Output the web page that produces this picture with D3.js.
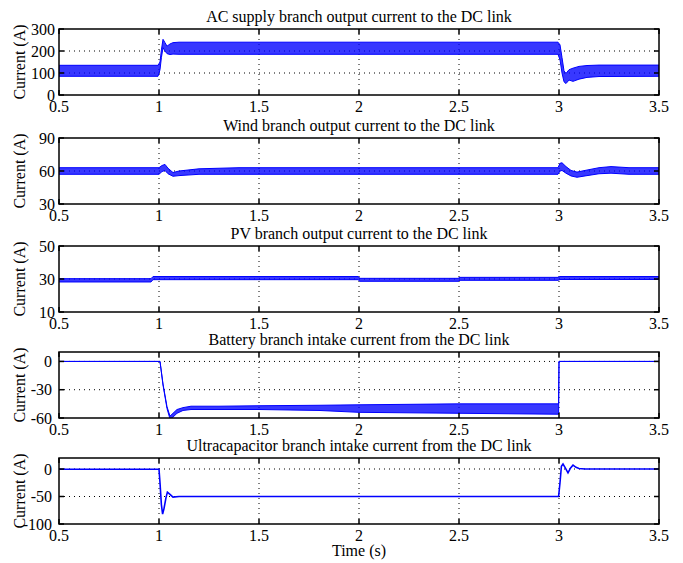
<!DOCTYPE html>
<html>
<head>
<meta charset="utf-8">
<script src="https://cdn.jsdelivr.net/npm/d3@7"></script>
<style>
  body { margin: 0; background: #fff; }
  text { font-family: "Liberation Serif", "Times New Roman", serif; fill: #000; }
</style>
</head>
<body>
<svg id="drawing_region"></svg>
<script>
// ---- data ----
const titles = [
    "AC supply branch output current to the DC link",
    "Wind branch output current to the DC link",
    "PV branch output current to the DC link",
    "Battery branch intake current from the DC link",
    "Ultracapacitor branch intake current from the DC link"
];
const timeTicks = [0.5, 1, 1.5, 2, 2.5, 3, 3.5];
const yTicks = [[0, 100, 200, 300], [30, 60, 90], [10, 30, 50], [-60, -30, 0], [-100, -50, 0]];
const yDomains = [[0, 300], [30, 90], [10, 50], [-60, 10], [-100, 20]];

// AC supply: ripple band (min / max)
const acT  = [0.5, 0.995, 1.005, 1.012, 1.02, 1.03, 1.04, 1.055, 1.07, 1.1, 2.995, 3.005, 3.015, 3.025, 3.035, 3.05, 3.07, 3.1, 3.14, 3.2, 3.5];
const acLo = [85, 85, 115, 170, 215, 200, 188, 184, 186, 185, 185, 160, 100, 60, 52, 68, 62, 72, 80, 84, 85];
const acHi = [135, 135, 150, 205, 253, 238, 222, 232, 238, 240, 240, 228, 170, 110, 98, 115, 122, 130, 134, 136, 136];

// Wind
const windT  = [0.5, 1.0, 1.015, 1.03, 1.045, 1.07, 1.1, 1.2, 1.4, 2.995, 3.005, 3.015, 3.035, 3.06, 3.09, 3.13, 3.2, 3.26, 3.35, 3.5];
const windLo = [57, 57, 59.5, 60.5, 57.5, 55.2, 55.8, 57, 57, 57, 60, 60.5, 58, 55.5, 54.3, 55.5, 57.5, 58, 57, 57];
const windHi = [63, 63, 65, 66, 62.5, 58.6, 60, 62, 63, 63, 67, 67.5, 64, 60.5, 59, 60.5, 63, 64, 63, 63];

// PV
const pvT  = [0.5, 0.96, 0.97, 1.995, 2.005, 2.495, 2.505, 2.995, 3.005, 3.5];
const pvLo = [28.2, 28.2, 29.6, 29.6, 28.6, 28.6, 29.2, 29.2, 29.7, 29.7];
const pvHi = [30.2, 30.2, 31.5, 31.5, 30.4, 30.4, 31, 31, 31.5, 31.5];

// Battery
const batT  = [0.5, 1.005, 1.02, 1.04, 1.055, 1.07, 1.09, 1.12, 1.16, 1.3, 1.5, 1.8, 2.0, 2.5, 2.998, 3.0, 3.5];
const batLo = [0, 0, -25, -50, -61, -59, -55, -52, -51, -51, -51, -52, -54, -55, -56, 0, 0];
const batHi = [0, 0, -24, -48, -58, -55, -51, -49, -47.5, -47.5, -47, -46.5, -46, -45, -45, 0, 0];

// Ultracapacitor
const ucT = [0.5, 1.0, 1.005, 1.012, 1.018, 1.025, 1.035, 1.042, 1.055, 1.07, 1.1, 2.998, 3.005, 3.012, 3.02, 3.03, 3.045, 3.058, 3.07, 3.085, 3.1, 3.13, 3.5];
const ucI = [-0.5, -0.5, -25, -65, -82, -72, -52, -42, -46, -51, -50, -50, -25, 5, 9, 3, -7, 2, 7, 3, 1, 0, 0];

// ---- layout ----
const W = 683, H = 563;
const left = 59, right = 659, panelH = 66;
const panelTops = [29, 138, 246, 352, 458];

const series = [
    {t: acT, lo: acLo, hi: acHi},
    {t: windT, lo: windLo, hi: windHi},
    {t: pvT, lo: pvLo, hi: pvHi},
    {t: batT, lo: batLo, hi: batHi},
    {t: ucT, v: ucI}
];

const svg = d3.select("#drawing_region").attr("width", W).attr("height", H);
const x = d3.scaleLinear().domain([0.5, 3.5]).range([left, right]);

titles.forEach((title, i) => {
    const top = panelTops[i], bottom = top + panelH;
    const y = d3.scaleLinear().domain(yDomains[i]).range([bottom, top]);
    const g = svg.append("g");

    g.append("clipPath").attr("id", "clip" + i)
        .append("rect").attr("x", left).attr("y", top).attr("width", right - left).attr("height", panelH);

    // dotted grid
    g.selectAll(".vg").data(timeTicks.slice(1, -1)).enter().append("line")
        .attr("x1", d => x(d)).attr("x2", d => x(d)).attr("y1", top).attr("y2", bottom)
        .attr("stroke", "#000").attr("stroke-width", 1).attr("stroke-dasharray", "1,4");
    g.selectAll(".hg").data(yTicks[i].filter(d => d != yDomains[i][0] && d != yDomains[i][1])).enter().append("line")
        .attr("x1", left).attr("x2", right).attr("y1", d => y(d)).attr("y2", d => y(d))
        .attr("stroke", "#000").attr("stroke-width", 1).attr("stroke-dasharray", "1,4");

    // signal
    const s = series[i];
    const pts = s.t.map((t, k) => ({t: t, lo: s.lo ? s.lo[k] : null, hi: s.hi ? s.hi[k] : null, v: s.v ? s.v[k] : null}));
    const plot = g.append("g").attr("clip-path", `url(#clip${i})`);
    if (s.v) {
        plot.append("path").datum(pts)
            .attr("d", d3.line().x(d => x(d.t)).y(d => y(d.v)))
            .attr("fill", "none").attr("stroke", "#0000ff").attr("stroke-width", 1.6);
    } else {
        plot.append("path").datum(pts)
            .attr("d", d3.area().x(d => x(d.t)).y0(d => y(d.lo)).y1(d => y(d.hi)))
            .attr("fill", "#0000ff").attr("fill-opacity", 0.78)
            .attr("stroke", "#0000ff").attr("stroke-width", 1);
    }

    // box and inward ticks
    g.append("rect").attr("x", left).attr("y", top).attr("width", right - left).attr("height", panelH)
        .attr("fill", "none").attr("stroke", "#000").attr("stroke-width", 1.5);
    const tl = 5;
    timeTicks.forEach(d => {
        g.append("line").attr("x1", x(d)).attr("x2", x(d)).attr("y1", bottom).attr("y2", bottom - tl).attr("stroke", "#000").attr("stroke-width", 1.5);
        g.append("line").attr("x1", x(d)).attr("x2", x(d)).attr("y1", top).attr("y2", top + tl).attr("stroke", "#000").attr("stroke-width", 1.5);
    });
    yTicks[i].forEach(d => {
        g.append("line").attr("x1", left).attr("x2", left + tl).attr("y1", y(d)).attr("y2", y(d)).attr("stroke", "#000").attr("stroke-width", 1.5);
        g.append("line").attr("x1", right).attr("x2", right - tl).attr("y1", y(d)).attr("y2", y(d)).attr("stroke", "#000").attr("stroke-width", 1.5);
    });

    // labels
    g.selectAll(".xl").data(timeTicks).enter().append("text")
        .attr("x", d => x(d)).attr("y", bottom + 16.5)
        .attr("text-anchor", "middle").attr("font-size", 16)
        .text(d => d);
    g.selectAll(".yl").data(yTicks[i]).enter().append("text")
        .attr("x", i < 3 ? 55 : 52).attr("y", d => y(d) + 5.5)
        .attr("text-anchor", "end").attr("font-size", 16)
        .text(d => d);
    g.append("text")
        .attr("transform", `translate(25,${top + panelH / 2}) rotate(-90)`)
        .attr("text-anchor", "middle").attr("font-size", 16)
        .text("Current (A)");
    g.append("text")
        .attr("x", (left + right) / 2).attr("y", top - 7)
        .attr("text-anchor", "middle").attr("font-size", 16)
        .text(title);
});

svg.append("text")
    .attr("x", (left + right) / 2).attr("y", 556)
    .attr("text-anchor", "middle").attr("font-size", 16)
    .text("Time (s)");
</script>
</body>
</html>
